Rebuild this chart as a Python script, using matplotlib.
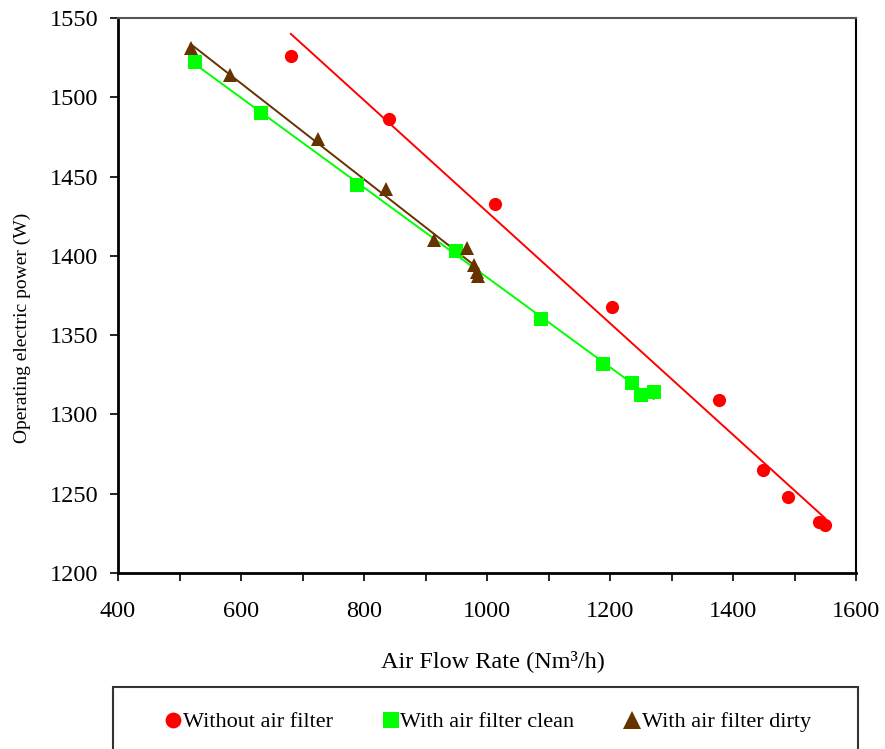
import numpy as np
import matplotlib
matplotlib.use("Agg")
import matplotlib.pyplot as plt
from matplotlib.patches import Rectangle

# Data
x_nofilter = [681, 841, 1013, 1203, 1377, 1448, 1490, 1540, 1550]
y_nofilter = [1526, 1486, 1433, 1368, 1309, 1265, 1248, 1232, 1230]

x_clean = [525, 632, 788, 950, 1088, 1188, 1236, 1251, 1271]
y_clean = [1522, 1490, 1445, 1403, 1360, 1332, 1320, 1312, 1314]

x_dirty = [518, 582, 725, 836, 914, 967, 979, 983, 986]
y_dirty = [1531, 1514, 1474, 1442, 1410, 1405, 1394, 1390, 1387]

series = [
    ("Without air filter", x_nofilter, y_nofilter, "#FF0000", "o", 9.5),
    ("With air filter clean", x_clean, y_clean, "#00FF00", "s", 9.4),
    ("With air filter dirty", x_dirty, y_dirty, "#663300", "^", 10.5),
]

plt.rcParams['font.family'] = ['Liberation Serif', 'DejaVu Serif']

fig = plt.figure(figsize=(8.85, 7.49), dpi=100)
ax = fig.add_axes([118/885, 1 - 573/749, (856-118)/885, (573-18)/749])

handles = []
for label, xs, ys, color, marker, ms in series:
    xs = np.array(xs, float); ys = np.array(ys, float)
    k, b = np.polyfit(xs, ys, 1)
    xl = np.array([xs.min(), xs.max()])
    ax.plot(xl, k*xl + b, color=color, lw=1.4, zorder=2)
    h, = ax.plot(xs, ys, linestyle='none', marker=marker, color=color,
                 markersize=ms, markeredgewidth=0, zorder=3, label=label)
    handles.append(h)

ax.set_xlim(400, 1600)
ax.set_ylim(1200, 1550)
ax.set_xticks(np.arange(400, 1601, 200))
ax.set_xticks(np.arange(400, 1601, 100), minor=True)
ax.set_yticks(np.arange(1200, 1551, 50))
ax.tick_params(axis='both', which='both', direction='out', length=6, width=1.2,
               labelsize=17.5, color='black')
ax.tick_params(axis='x', pad=14)
ax.tick_params(axis='y', pad=8)

ax.spines['left'].set_linewidth(2)
ax.spines['bottom'].set_linewidth(2)
ax.spines['right'].set_linewidth(1.5)
ax.spines['top'].set_linewidth(1.5)
ax.spines['top'].set_color('#555555')

ax.set_xlabel("Air Flow Rate (Nm³/h)", fontsize=17.5)
ax.xaxis.label.set_verticalalignment('baseline')
ax.xaxis.set_label_coords((492.5-118)/738, (573-667)/555)
ax.set_ylabel("Operating electric power (W)", fontsize=14)
ax.yaxis.set_label_coords((31-118)/738, (573-328)/555)

# Legend box
fig.patches.append(Rectangle((113/885, -10/749), (858-113)/885, (759-687)/749,
                             transform=fig.transFigure, fill=False,
                             edgecolor='#333333', lw=1.5))
fig.legend(handles=handles, loc='center', bbox_to_anchor=(488.5/885, 1 - 722/749),
           ncol=3, frameon=False, fontsize=16, handlelength=0.65,
           handletextpad=0.12, columnspacing=2.25, markerscale=1.2,
           borderpad=0, borderaxespad=0)

fig.savefig("out.png", dpi=100)
